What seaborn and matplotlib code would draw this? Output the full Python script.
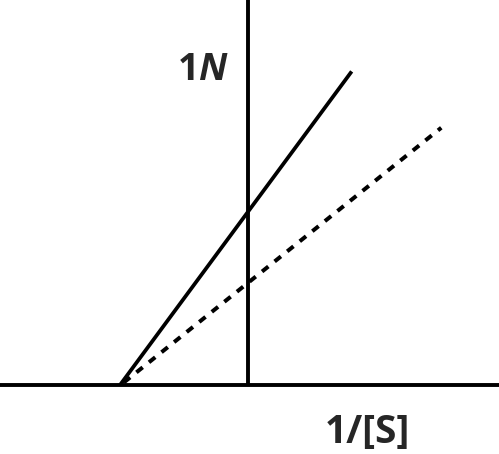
import matplotlib
matplotlib.use("Agg")
import matplotlib.pyplot as plt
import seaborn as sns
import pandas as pd

# data (pixel readings converted to units, origin at axis crossing)
x_no_inhib = [-1.0, 0.81]
y_no_inhib = [0.0, 2.45]
x_inhib = [-0.97, 1.51]
y_inhib = [0.02, 2.01]
y_label = r"1$\mathit{N}$"
x_label = "1/[S]"

sns.set_style("white")
plt.rcParams['font.family'] = ['Open Sans', 'DejaVu Sans']
plt.rcParams['mathtext.fontset'] = 'custom'
plt.rcParams['mathtext.rm'] = 'Open Sans:bold'
plt.rcParams['mathtext.it'] = 'Open Sans:italic:bold'

df_a = pd.DataFrame({"x": x_no_inhib, "y": y_no_inhib})
df_b = pd.DataFrame({"x": x_inhib, "y": y_inhib})

fig = plt.figure(figsize=(4.99, 4.54), dpi=100)
ax = fig.add_axes([0, 0, 1, 1])

xmin, xmax = -1.9375, 1.961
ymin, ymax = -0.539, 3.008

# axes
ax.plot([xmin, xmax], [0, 0], color="black", lw=2.8, solid_capstyle="butt")
ax.plot([0, 0], [0, ymax], color="black", lw=2.8, solid_capstyle="butt")

sns.lineplot(data=df_a, x="x", y="y", ax=ax, color="black", lw=2.7,
             solid_capstyle="butt")
sns.lineplot(data=df_b, x="x", y="y", ax=ax, color="black", lw=2.9,
             linestyle=(0, (2.0, 2.0)), dash_capstyle="butt")

ax.text(-0.555, 2.383, y_label, fontsize=27, fontweight="bold",
        ha="left", va="baseline")
ax.text(0.60, -0.453, x_label, fontsize=28, fontweight="bold",
        ha="left", va="baseline")

ax.set_xlim(xmin, xmax)
ax.set_ylim(ymin, ymax)
ax.set_xlabel("")
ax.set_ylabel("")
ax.set_xticks([])
ax.set_yticks([])
sns.despine(ax=ax, left=True, bottom=True)

fig.savefig("out.png", dpi=100)
